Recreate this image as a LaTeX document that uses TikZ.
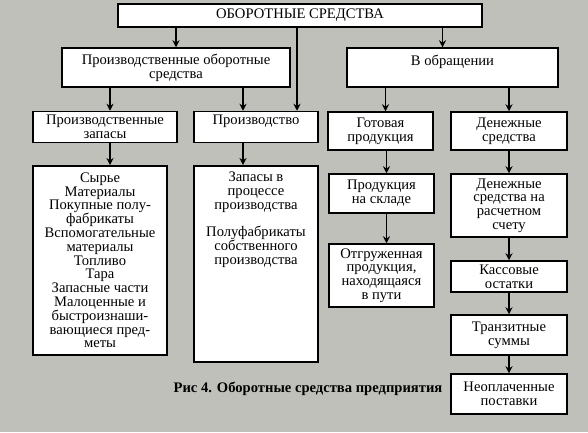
\documentclass[tikz,border=0pt]{standalone}
\usepackage{fontspec}
\setmainfont{Liberation Serif}
\usetikzlibrary{arrows.meta}
\definecolor{bgpaper}{RGB}{190,192,185}
\tikzset{
  box/.style={draw,fill=white,line width=1.5pt,align=center,inner sep=0pt,
    font=\fontsize{14.6}{13.8}\selectfont},
  arr/.style={line width=1.3pt,-{Stealth[length=7pt,width=7pt]}}
}
\begin{document}
\begin{tikzpicture}[x=1pt,y=-1pt]
\fill[bgpaper] (0,0) rectangle (588,432);
\useasboundingbox (0,0) rectangle (588,432);
% top level
\node[box,minimum width=364,minimum height=23] (title) at (300,15.5) {ОБОРОТНЫЕ СРЕДСТВА};
\node[box,minimum width=228,minimum height=39] (prodos) at (176,67.5) {Производственные оборотные\\средства};
\node[box,minimum width=211,minimum height=39] (obr) at (452.5,67.5) {В обращении\\~};
% second level
\node[box,minimum width=144,minimum height=31] (zap) at (105,127) {Производственные\\запасы};
\node[box,minimum width=124,minimum height=31] (proizv) at (256,127) {Производство\\~};
\node[box,minimum width=105,minimum height=38] (gp) at (380.5,131) {Готовая\\продукция};
\node[box,minimum width=116,minimum height=38] (ds) at (509,131) {Денежные\\средства};
% lists
\node[box,minimum width=134,minimum height=189,anchor=north] (syr) at (100,165) {Сырье\\Материалы\\Покупные полу-\\фабрикаты\\Вспомогательные\\материалы\\Топливо\\Тара\\Запасные части\\Малоценные и\\быстроизнаши-\\вающиеся пред-\\меты};
\node[box,minimum width=124,minimum height=136,anchor=north,inner ysep=6pt,text depth=92pt] (zip) at (256,165) {Запасы в\\процессе\\производства\\[13.8pt]Полуфабрикаты\\собственного\\производства};
% right columns
\node[box,minimum width=105,minimum height=39] (skl) at (381.5,193.5) {Продукция\\на складе};
\node[box,minimum width=105,minimum height=63] (otgr) at (381.5,275.5) {Отгруженная\\продукция,\\находящаяся\\в пути};
\node[box,minimum width=116,minimum height=63] (rs) at (509,205.5) {Денежные\\средства на\\расчетном\\счету};
\node[box,minimum width=116,minimum height=31] (kas) at (509,276.5) {Кассовые\\остатки};
\node[box,minimum width=116,minimum height=40] (tran) at (509,335) {Транзитные\\суммы};
\node[box,minimum width=116,minimum height=40] (neop) at (509,394) {Неоплаченные\\поставки};
\node[font=\fontsize{14.6}{14}\selectfont\bfseries] (cap) at (308,389) {Рис 4. Оборотные средства предприятия};
% arrows
\draw[arr] (title.south -| prodos.north) -- (prodos.north);
\draw[arr] ([xshift=41]proizv.north |- title.south) -- ([xshift=41]proizv.north);
\draw[arr] ([xshift=-10]title.south -| obr.north) -- ([xshift=-10]obr.north);
\draw[arr] ([xshift=5]prodos.south -| zap.north) -- ([xshift=5]zap.north);
\draw[arr] ([xshift=-13]prodos.south -| proizv.north) -- ([xshift=-13]proizv.north);
\draw[arr] ([xshift=5]obr.south -| gp.north) -- ([xshift=5]gp.north);
\draw[arr] (obr.south -| ds.north) -- (ds.north);
\draw[arr] ([xshift=5]zap.south) -- ([xshift=5]zap.south |- syr.north);
\draw[arr] ([xshift=-13]proizv.south) -- ([xshift=-13]proizv.south |- zip.north);
\draw[arr] ([xshift=5]gp.south -| skl.north) -- ([xshift=5]skl.north);
\draw[arr] ([xshift=5]skl.south) -- ([xshift=5]otgr.north);
\draw[arr] (ds.south) -- (rs.north);
\draw[arr] (rs.south) -- (kas.north);
\draw[arr] (kas.south) -- (tran.north);
\draw[arr] (tran.south) -- (neop.north);
\end{tikzpicture}
\end{document}
